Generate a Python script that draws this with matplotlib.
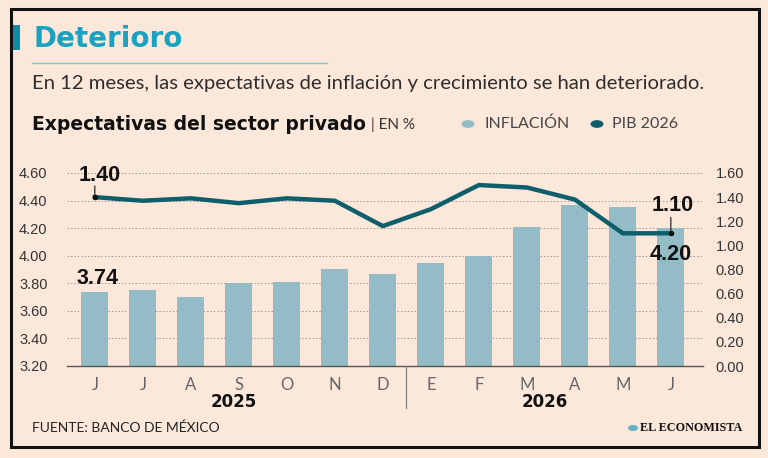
import matplotlib
matplotlib.use("Agg")
import matplotlib.pyplot as plt
from matplotlib.patches import Rectangle, Circle
from matplotlib.lines import Line2D

# datos
meses = ['J', 'J', 'A', 'S', 'O', 'N', 'D', 'E', 'F', 'M', 'A', 'M', 'J']
inflacion = [3.74, 3.75, 3.70, 3.80, 3.81, 3.90, 3.87, 3.95, 4.00, 4.21, 4.37, 4.35, 4.20]
pib_2026 = [1.40, 1.37, 1.39, 1.35, 1.39, 1.37, 1.16, 1.30, 1.50, 1.48, 1.38, 1.10, 1.10]
ticks_izq = [3.20, 3.40, 3.60, 3.80, 4.00, 4.20, 4.40, 4.60]
ticks_der = [0.00, 0.20, 0.40, 0.60, 0.80, 1.00, 1.20, 1.40, 1.60]
anios = ['2025', '2026']

bg = '#fce8da'
c_bar = '#93bcc6'
c_line = '#0e5f6b'
c_title = '#1ba2c2'
W, H = 768, 458
fuente = ['Lato', 'DejaVu Sans']

fig = plt.figure(figsize=(7.68, 4.58), dpi=100)
fig.patch.set_facecolor(bg)

def fx(px):
    return px / W

def fy(py):
    return 1 - py / H

# marco
fig.add_artist(Rectangle((fx(11), fy(447)), fx(748), (447 - 9) / H, transform=fig.transFigure,
                         fill=False, ec='#111111', lw=2.2))
# barrita del titulo
fig.add_artist(Rectangle((fx(13), fy(50)), fx(7), 25 / H, transform=fig.transFigure,
                         fc='#0a8ba3', ec='none'))
fig.text(fx(33), fy(39), 'Deterioro', fontsize=20, fontweight='bold', color=c_title,
         va='center', ha='left', family='DejaVu Sans')
fig.add_artist(Line2D([fx(32), fx(327)], [fy(62.5), fy(62.5)], transform=fig.transFigure,
                      color='#7fc6d6', lw=1))
fig.text(fx(32), fy(84), 'En 12 meses, las expectativas de inflación y crecimiento se han deteriorado.',
         fontsize=14.6, color='#2e2e2e', va='center', ha='left', family=fuente)
fig.text(fx(32), fy(124), 'Expectativas del sector privado', fontsize=13.5, fontweight='bold',
         color='#111111', va='center', ha='left', family='DejaVu Sans')
fig.text(fx(371), fy(125), '| EN %', fontsize=11, color='#333333', va='center', ha='left',
         family=fuente)

# leyenda
fig.add_artist(Circle((fx(468), fy(124)), 6.5 / W, transform=fig.transFigure, fc=c_bar, ec='none'))
fig.text(fx(484), fy(124), 'INFLACIÓN', fontsize=11.5, color='#444444', va='center', ha='left',
         family=fuente)
fig.add_artist(Circle((fx(597), fy(124)), 6.5 / W, transform=fig.transFigure, fc=c_line, ec='none'))
fig.text(fx(612), fy(124), 'PIB 2026', fontsize=11.5, color='#444444', va='center', ha='left',
         family=fuente)

# ejes
ax = fig.add_axes([fx(67), fy(366), fx(703 - 67), (366 - 173) / H])
ax.set_facecolor('none')
x = list(range(len(meses)))
ax.bar(x, inflacion, width=0.56, color=c_bar, zorder=2)
ax.set_ylim(3.20, 4.60)
ax.set_xlim(-0.58, 12.67)
ax.set_yticks(ticks_izq)
ax.set_yticklabels([f'{t:.2f}' for t in ticks_izq], family='Liberation Sans',
                   fontsize=10.5, color='#333333')
for t in ticks_izq[1:]:
    ax.axhline(t, color='#9a9a9a', lw=0.7, ls=(0, (1.5, 2)), zorder=1)
for s in ['top', 'left', 'right']:
    ax.spines[s].set_visible(False)
ax.spines['bottom'].set_color('#555555')
ax.spines['bottom'].set_linewidth(1)
ax.tick_params(axis='y', length=0, pad=14)
ax.tick_params(axis='x', length=0, pad=8)
ax.set_xticks(x)
ax.set_xticklabels(meses, family=fuente, fontsize=12, color='#666666')

ax2 = ax.twinx()
ax2.set_ylim(0, 1.60)
ax2.set_yticks(ticks_der)
ax2.set_yticklabels([f'{t:.2f}' for t in ticks_der], family='Liberation Sans',
                    fontsize=10.5, color='#333333')
ax2.tick_params(axis='y', length=0, pad=9)
for s in ['top', 'left', 'right', 'bottom']:
    ax2.spines[s].set_visible(False)
ax2.plot(x, pib_2026, color=c_line, lw=3.2, solid_joinstyle='miter', zorder=3)
ax2.plot([x[0], x[-1]], [pib_2026[0], pib_2026[-1]], 'o', color='#111111', ms=3, zorder=4)

# etiquetas de valores
lab = dict(fontsize=15.5, fontweight='bold', color='#111111', family='Liberation Sans',
           clip_on=False, zorder=5)
guia = dict(arrowstyle='-', color='#111111', lw=0.8, shrinkA=0, shrinkB=0)
ax2.annotate('', xy=(x[0], pib_2026[0]), xytext=(0, 8), textcoords='offset points', arrowprops=guia)
ax2.annotate(f'{pib_2026[0]:.2f}', xy=(x[0], pib_2026[0]), xytext=(3.6, 15.5),
             textcoords='offset points', ha='center', va='center', **lab)
ax.annotate(f'{inflacion[0]:.2f}', xy=(x[0], inflacion[0]), xytext=(2, 9.5),
            textcoords='offset points', ha='center', va='center', **lab)
ax2.annotate('', xy=(x[-1], pib_2026[-1]), xytext=(0, 11.5), textcoords='offset points', arrowprops=guia)
ax2.annotate(f'{pib_2026[-1]:.2f}', xy=(x[-1], pib_2026[-1]), xytext=(1.5, 20),
             textcoords='offset points', ha='center', va='center', **lab)
ax.annotate(f'{inflacion[-1]:.2f}', xy=(x[-1], inflacion[-1]), xytext=(0, -19),
            textcoords='offset points', ha='center', va='center', **lab)

# separador de anios
fig.add_artist(Line2D([fx(406), fx(406)], [fy(366), fy(408)], transform=fig.transFigure,
                      color='#777777', lw=0.8))
fig.text(fx(234), fy(402), anios[0], fontsize=12, fontweight='bold', color='#111111',
         ha='center', va='center', family='DejaVu Sans')
fig.text(fx(545), fy(402), anios[1], fontsize=12, fontweight='bold', color='#111111',
         ha='center', va='center', family='DejaVu Sans')

fig.text(fx(32), fy(428), 'FUENTE: BANCO DE MÉXICO', fontsize=10, color='#222222',
         ha='left', va='center', family=fuente)
fig.add_artist(Circle((fx(633), fy(428)), 5 / W, transform=fig.transFigure, fc='#5fb4c8', ec='none'))
fig.text(fx(640), fy(428), 'EL ECONOMISTA', fontsize=8.7, fontweight='bold', color='#111111',
         ha='left', va='center', family='Liberation Serif')

fig.savefig('out.png', dpi=100, facecolor=bg)
